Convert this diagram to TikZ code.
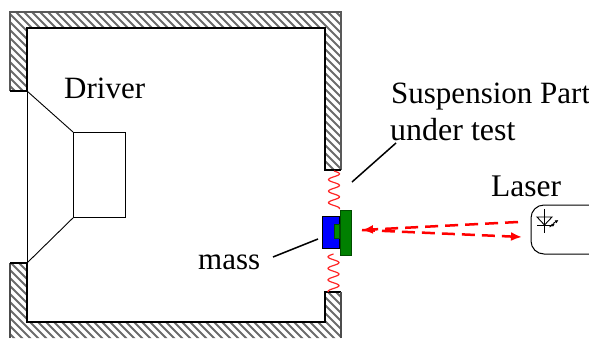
\documentclass[tikz,border=0pt]{standalone}
\usepackage{fontspec}
\setmainfont{Liberation Serif}
\usetikzlibrary{arrows.meta}
\tikzset{
 lbl/.style={font=\fontsize{31.5}{31.5}\selectfont,anchor=base west,inner sep=0pt,text=black},
 wall/.style={line width=1.1pt,black},
 leader/.style={line width=1.5pt,black},
 beam/.style={red,line width=2.5pt,dash pattern=on 13pt off 7pt},
 bellow/.style={red!85,line width=1.2pt,smooth},
}
\begin{document}
\begin{tikzpicture}[x=1pt,y=-1pt]
\useasboundingbox (0,0) rectangle (589,338);
\clip (0,0) rectangle (589,338);
% hatched walls
\begin{scope}
\clip (10,12) -- (341,12) -- (341,170) -- (325,170) -- (325,28) -- (27,28) -- (27,91) -- (10,91) -- cycle
      (10,263) -- (27,263) -- (27,322) -- (325,322) -- (325,292) -- (341,292) -- (341,338) -- (10,338) -- cycle;
\foreach \i in {-340,-332,...,340}
  \draw[line width=2pt,black!58] (\i,0) -- ++(340,340);
\end{scope}
\draw[line width=1.2pt,black!65] (10,91) -- (10,12) -- (341,12) -- (341,170);
\draw[wall] (27,91) -- (27,28) -- (325,28) -- (325,170) -- (341,170);
\draw[wall] (10,91) -- (27,91);
\draw[line width=1.1pt,black!70] (10,338) -- (10,263);
\draw[wall] (10,263) -- (27,263) -- (27,322) -- (325,322) -- (325,292) -- (341,292);
\draw[line width=1.1pt,black!70] (341,292) -- (341,338);
% driver
\coordinate (coneTop) at (27,91);
\coordinate (coneBot) at (27,263);
\node[draw,line width=0.9pt,minimum width=52pt,minimum height=85pt,inner sep=0pt,anchor=north west] (magnet) at (73,132) {};
\draw[line width=0.9pt] (coneTop) -- (magnet.north west);
\draw[line width=0.9pt] (coneBot) -- (magnet.south west);
\draw[line width=0.9pt] (coneTop) -- (coneBot);
% bellows
\draw[bellow,domain=171:209,samples=60] plot ({334+5.5*sin(31.3*(\x-171))},\x);
\draw[bellow,domain=254:292,samples=60] plot ({333.5-5.5*sin(31.3*(\x-254))},\x);
% mass and part
\node[draw=black,fill=blue,line width=0.9pt,minimum width=17pt,minimum height=32pt,inner sep=0pt,anchor=north west] (massbox) at (322,216) {};
\node[draw=black!70!green,fill=black!45!green,line width=0.9pt,minimum width=5pt,minimum height=14pt,inner sep=0pt,anchor=north west] (stud) at (334,224) {};
\node[draw=black!70!green,fill=black!50!green,line width=1.2pt,minimum width=11pt,minimum height=45pt,inner sep=0pt,anchor=north west] (part) at (339.5,209.5) {};
% leaders
\coordinate (l1) at (352,182);\coordinate (l2) at (396,143);
\coordinate (m1) at (273,257);\coordinate (m2) at (318,239);
\draw[leader] (l1) -- (l2);
\draw[leader] (m1) -- (m2);
% laser
\draw[line width=1pt,rounded corners=13pt] (531,205) rectangle (610,254);
\coordinate (a1) at (518,222);\coordinate (a2) at (362,230);\coordinate (a3) at (522,237);
\draw[beam,-{Latex[length=11pt,width=9pt]}] (a1) -- (a2);
\draw[beam,-{Latex[length=11pt,width=9pt]}] (a2) -- (a3);
% led
\draw[line width=0.9pt] (544.5,209) -- (544.5,233);
\draw[line width=0.9pt] (537,217) -- (552,217) -- (544.5,225) -- cycle;
\draw[line width=0.9pt] (537,225) -- (552,225);
\draw[line width=0.8pt,black,-{Latex[length=3.5pt,width=3.5pt]}] (553,223.5) -- (558.5,220);
\draw[line width=0.8pt,black,-{Latex[length=3.5pt,width=3.5pt]}] (549.5,227) -- (555,223.5);
% labels
\node[lbl] (driver) at (64,98) {\fontsize{31}{31}\selectfont Driver};
\node[lbl] (susp) at (391,103) {\fontsize{31}{31}\selectfont Suspension Part};
\node[lbl] (under) at (390,140) {\fontsize{32}{32}\selectfont under test};
\node[lbl] (laser) at (491,196) {Laser};
\node[lbl] (mass) at (198,269) {\fontsize{31}{31}\selectfont mass};
\end{tikzpicture}
\end{document}
